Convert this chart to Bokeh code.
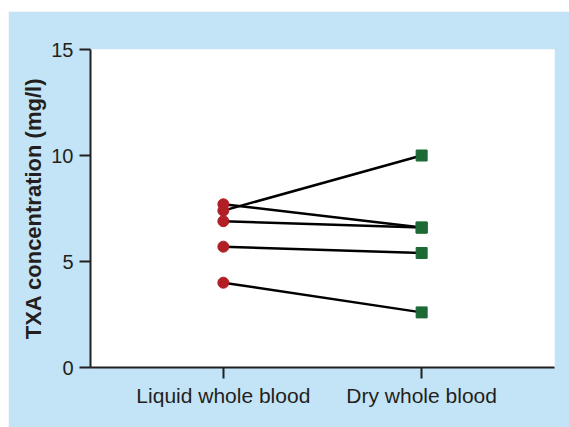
from bokeh.plotting import figure
from bokeh.models import FactorRange, Range1d, FixedTicker
from bokeh.embed import file_html
from bokeh.resources import INLINE

categories = ["Liquid whole blood", "Dry whole blood"]
liquid = [7.7, 7.4, 6.9, 5.7, 4.0]
dry = [6.6, 10.0, 6.6, 5.4, 2.6]
y_ticks = [0, 5, 10, 15]

BG = "#c3e4f6"
INK = "#231f20"
FONT = "Liberation Sans"

p = figure(width=561, height=416, output_backend="svg", toolbar_location=None,
           margin=(11, 0, 0, 8),
           x_range=FactorRange(*categories, range_padding=0.17, range_padding_units="absolute"),
           y_range=Range1d(0, 15),
           min_border_left=82, min_border_right=15, min_border_top=38, min_border_bottom=60)

p.background_fill_color = "white"
p.border_fill_color = BG
p.outline_line_color = None
p.xgrid.grid_line_color = None
p.ygrid.grid_line_color = None

xs = [[categories[0], categories[1]] for _ in liquid]
ys = [[a, b] for a, b in zip(liquid, dry)]
p.multi_line(xs=xs, ys=ys, line_color="black", line_width=2.5)

p.scatter(x=[categories[0]] * len(liquid), y=liquid, marker="circle", size=11,
          fill_color="#b01f26", line_color="#b01f26")
p.scatter(x=[categories[1]] * len(dry), y=dry, marker="square", size=11,
          fill_color="#1d6a35", line_color="#1d6a35")

for ax in (p.xaxis[0], p.yaxis[0]):
    ax.axis_line_color = INK
    ax.axis_line_width = 2
    ax.major_tick_line_color = INK
    ax.major_tick_line_width = 2
    ax.major_tick_in = 0
    ax.major_tick_out = 11
    ax.minor_tick_line_color = None
    ax.major_label_text_color = INK
    ax.major_label_text_font = FONT

p.yaxis.ticker = FixedTicker(ticks=y_ticks)
p.yaxis.major_label_text_font_size = "20px"
p.yaxis.major_label_standoff = 6
p.yaxis.axis_label = "TXA concentration (mg/l)"
p.yaxis.axis_label_text_font = FONT
p.yaxis.axis_label_text_font_size = "22px"
p.yaxis.axis_label_text_font_style = "bold"
p.yaxis.axis_label_text_color = INK
p.yaxis.axis_label_standoff = 2

p.xaxis.major_label_text_font_size = "21px"
p.xaxis.major_label_standoff = 5

open("out.html", "w").write(file_html(p, INLINE))
